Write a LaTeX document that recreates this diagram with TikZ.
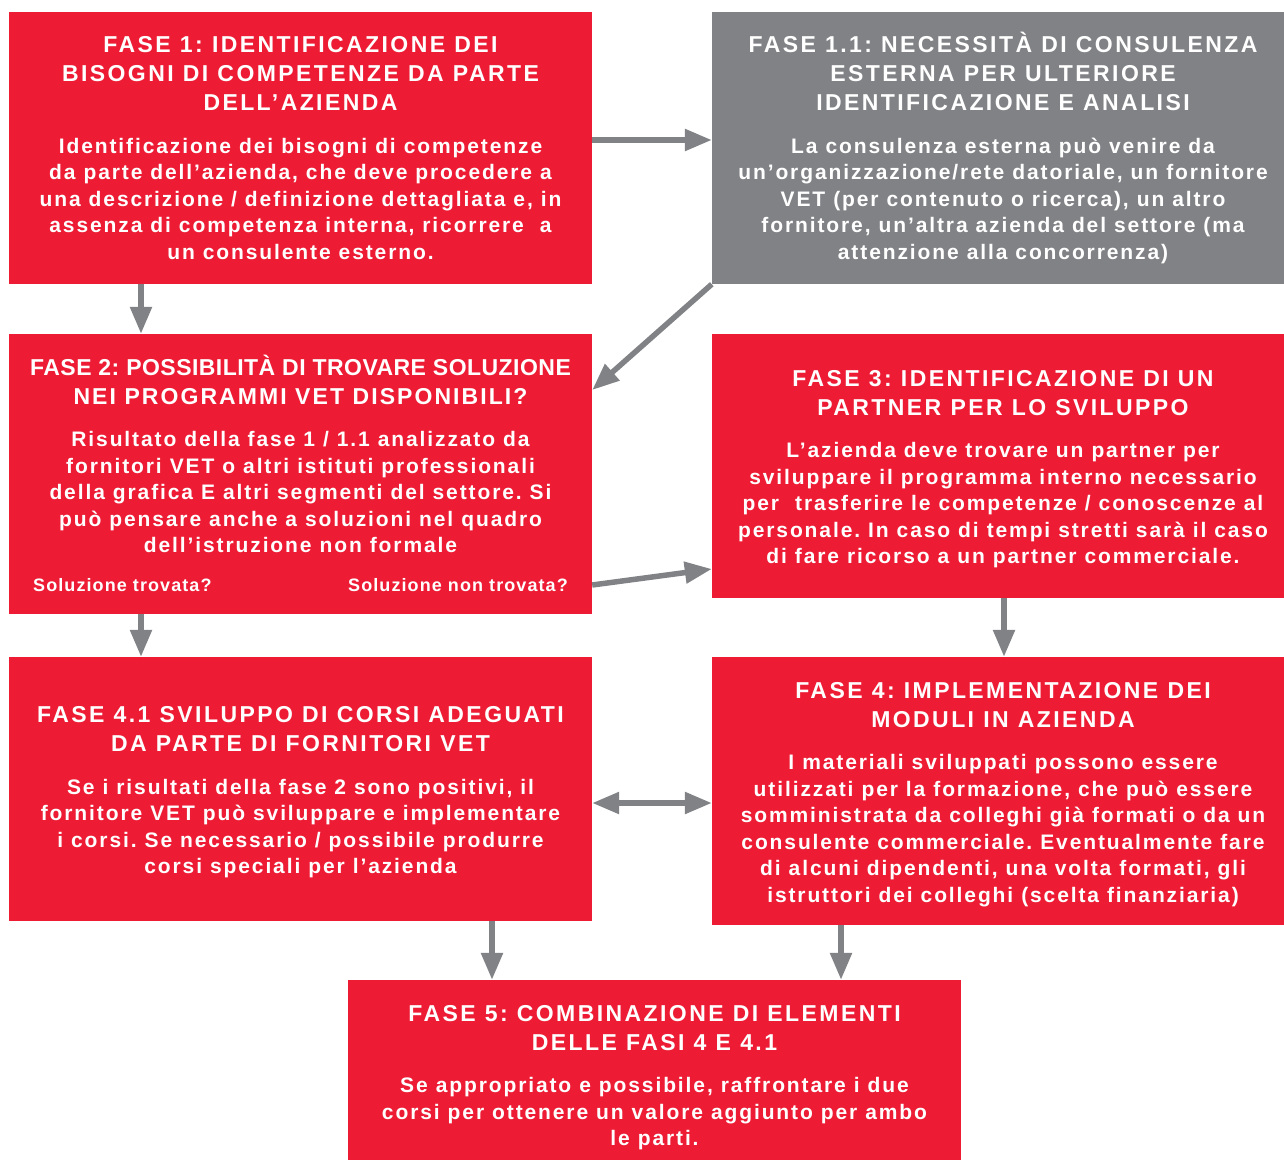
\documentclass[tikz,border=0pt]{standalone}
\usepackage{fontspec}
\setmainfont{Liberation Sans}
\newfontfamily\ttlfam{Liberation Sans}[LetterSpace=10.5]
\newfontfamily\ttlfamB{Liberation Sans}[LetterSpace=9]
\newfontfamily\ttltight{Liberation Sans}[LetterSpace=2]
\newfontfamily\bdyfam{Liberation Sans}[LetterSpace=9]
\newfontfamily\solfam{Liberation Sans}[LetterSpace=6]
\usetikzlibrary{arrows.meta,calc}

\definecolor{fasered}{HTML}{ED1B34}
\definecolor{fasegray}{HTML}{808285}
\definecolor{arrowgray}{HTML}{808285}

% explicit word space, as tracking removes it
\newcommand\wsp[1]{\spaceskip=#1\relax\xspaceskip=#1\relax}
% title and body text styles
\newcommand\ttl{\ttlfam\bfseries\fontsize{23}{29}\selectfont\wsp{0.4em}}
\newcommand\ttlB{\ttlfamB\bfseries\fontsize{23}{29}\selectfont\wsp{0.37em}}
\newcommand\ttlT{\ttltight\bfseries\fontsize{23}{29}\selectfont\wsp{0.3em}}
\newcommand\bdy{\bdyfam\bfseries\fontsize{21}{26.5}\selectfont\wsp{0.38em}}
\newcommand\sol{\solfam\bfseries\fontsize{18}{20}\selectfont\wsp{0.34em}}
\newcommand\gap{\vspace{16pt}}

\begin{document}
\begin{tikzpicture}[x=1pt,y=-1pt,
  box/.style={fill=fasered, inner sep=0pt, minimum width=#1},
  graybox/.style={box=#1, fill=fasegray},
  txt/.style={text=white, inner sep=0pt, align=center, text width=#1},
  txt/.default=574pt,
  arr/.style={draw=arrowgray, line width=5.5pt, -{Triangle[length=27pt,width=21pt]}},
  arrboth/.style={draw=arrowgray, line width=5.5pt, {Triangle[length=27pt,width=21pt]}-{Triangle[length=27pt,width=21pt]}}
]
\useasboundingbox (0,0) rectangle (1284,1162);

% boxes
\node[box=583pt, minimum height=272pt] (f1) at (300.5,148) {};
\node[graybox=572pt, minimum height=272pt] (f11) at (998,148) {};
\node[box=583pt, minimum height=280pt] (f2) at (300.5,474) {};
\node[box=572pt, minimum height=264pt] (f3) at (998,466) {};
\node[box=583pt, minimum height=264pt] (f41) at (300.5,789) {};
\node[box=572pt, minimum height=268pt] (f4) at (998,791) {};
\node[box=613pt, minimum height=180pt] (f5) at (654.5,1070) {};

% Phase 1
\node[txt] (t1) at (300.5,148) {%
  {\ttl FASE 1: IDENTIFICAZIONE DEI\\BISOGNI DI COMPETENZE DA PARTE\\DELL’AZIENDA\par}\gap
  {\bdy Identificazione dei bisogni di competenze\\da parte dell’azienda, che deve procedere a\\una descrizione / definizione dettagliata e, in\\assenza di competenza interna, ricorrere\ \ a\\un consulente esterno.\par}};

% Phase 1.1
\node[txt] (t11) at (1003,148) {%
  {\ttl FASE 1.1: NECESSITÀ DI CONSULENZA\\ESTERNA PER ULTERIORE\\IDENTIFICAZIONE E ANALISI\par}\gap
  {\bdy La consulenza esterna può venire da\\un’organizzazione/rete datoriale, un fornitore\\VET (per contenuto o ricerca), un altro\\fornitore, un’altra azienda del settore (ma\\attenzione alla concorrenza)\par}};

% Phase 2
\node[txt] (t2) at (300.5,454) {%
  {\ttlT FASE 2: POSSIBILITÀ DI TROVARE SOLUZIONE\\{\ttlB NEI PROGRAMMI VET DISPONIBILI?}\par}\gap
  {\bdy Risultato della fase 1 / 1.1 analizzato da\\fornitori VET o altri istituti professionali\\della grafica E altri segmenti del settore. Si\\può pensare anche a soluzioni nel quadro\\dell’istruzione non formale\par}};
\node[text=white, inner sep=0pt, anchor=west, font=\sol] (s1) at (33,585) {Soluzione trovata?};
\node[text=white, inner sep=0pt, anchor=east, font=\sol] (s2) at (568,585) {Soluzione non trovata?};

% Phase 3
\node[txt] (t3) at (1003,469) {%
  {\ttl FASE 3: IDENTIFICAZIONE DI UN\\PARTNER PER LO SVILUPPO\par}\gap
  {\bdy L’azienda deve trovare un partner per\\sviluppare il programma interno necessario\\per\ \ trasferire le competenze / conoscenze al\\personale. In caso di tempi stretti sarà il caso\\di fare ricorso a un partner commerciale.\par}};

% Phase 4.1
\node[txt] (t41) at (300.5,792.5) {%
  {\ttl FASE 4.1 SVILUPPO DI CORSI ADEGUATI\\DA PARTE DI FORNITORI VET\par}\gap
  {\bdy Se i risultati della fase 2 sono positivi, il\\fornitore VET può sviluppare e implementare\\i corsi. Se necessario / possibile produrre\\corsi speciali per l’azienda\par}};

% Phase 4
\node[txt] (t4) at (1003,794.5) {%
  {\ttl FASE 4: IMPLEMENTAZIONE DEI\\MODULI IN AZIENDA\par}\gap
  {\bdy I materiali sviluppati possono essere\\utilizzati per la formazione, che può essere\\somministrata da colleghi già formati o da un\\consulente commerciale. Eventualmente fare\\di alcuni dipendenti, una volta formati, gli\\istruttori dei colleghi (scelta finanziaria)\par}};

% Phase 5
\node[txt=603pt] (t5) at (654.5,1077.5) {%
  {\ttl FASE 5: COMBINAZIONE DI ELEMENTI\\DELLE FASI 4 E 4.1\par}\gap
  {\bdy Se appropriato e possibile, raffrontare i due\\corsi per ottenere un valore aggiunto per ambo\\le parti.\par}};

% connectors
\draw[arr] ([yshift=8pt]f1.east) -- ([yshift=8pt]f11.west);
\draw[arr] ([xshift=-159.5pt]f1.south) -- ([xshift=-159.5pt]f2.north);
\draw[arr] (f11.south west) -- ([yshift=84pt]f2.east);
\draw[arr] ([yshift=-111pt]f2.east) -- ([yshift=-103pt]f3.west);
\draw[arr] ([xshift=-159.5pt]f2.south) -- ([xshift=-159.5pt]f41.north);
\draw[arr] ([xshift=6pt]f3.south) -- ([xshift=6pt]f4.north);
\draw[arrboth] ([yshift=-14pt]f41.east) -- ([yshift=-12pt]f4.west);
\draw[arr] ([xshift=191.5pt]f41.south) -- ([xshift=-162.5pt]f5.north);
\draw[arr] ([xshift=-157pt]f4.south) -- ([xshift=186.5pt]f5.north);
\end{tikzpicture}
\end{document}
